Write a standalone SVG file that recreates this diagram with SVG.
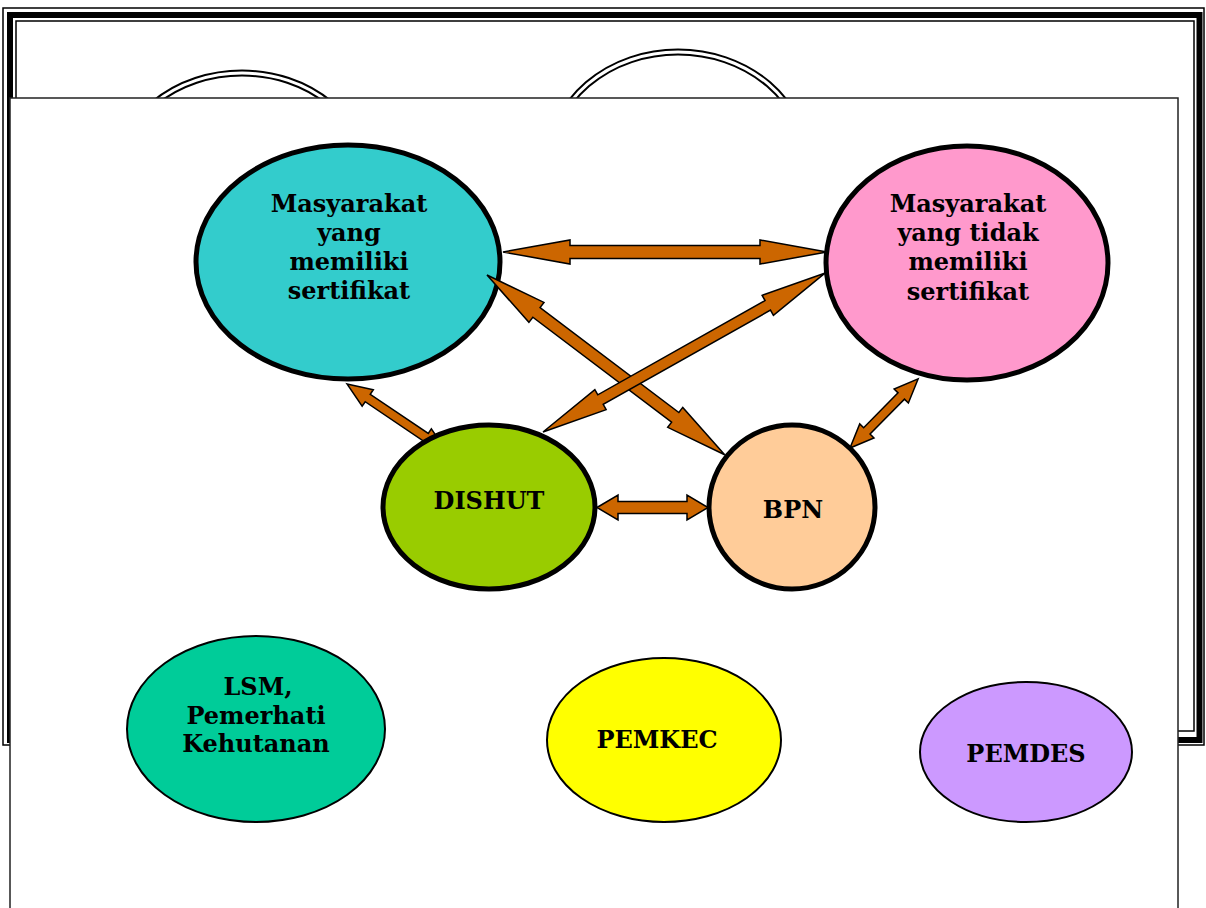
<svg xmlns="http://www.w3.org/2000/svg" width="1206" height="908" viewBox="0 0 1206 908">
<defs>
<style>
.frame{fill:none;stroke:#000}
.big{stroke:#000;stroke-width:5}
.small{stroke:#000;stroke-width:2}
.lbl{font-family:"DejaVu Serif","Liberation Serif",serif;font-weight:bold;font-size:24px;text-anchor:middle;fill:#000}
.arr{fill:#CC6600;stroke:#000;stroke-width:1.5;stroke-linejoin:miter}
</style>
</defs>
<rect width="1206" height="908" fill="#fff"/>
<g id="back-slide">
<rect class="frame" x="3" y="8" width="1201" height="737" stroke-width="1.5"/>
<rect class="frame" x="10" y="15" width="1189.5" height="725" stroke-width="6"/>
<rect class="frame" x="16" y="21" width="1178" height="710" stroke-width="1.5"/>
<ellipse cx="242" cy="178" rx="125" ry="105" fill="none" stroke="#000" stroke-width="7"/>
<ellipse cx="242" cy="178" rx="125" ry="105" fill="none" stroke="#fff" stroke-width="3"/>
<ellipse cx="678" cy="162" rx="128" ry="110" fill="none" stroke="#000" stroke-width="7"/>
<ellipse cx="678" cy="162" rx="128" ry="110" fill="none" stroke="#fff" stroke-width="3"/>
</g>
<rect id="front-slide" x="10" y="98" width="1168" height="830" fill="#fff" stroke="#222" stroke-width="1.5"/>
<g id="node-bersertifikat">
<ellipse class="big" cx="348" cy="262" rx="152" ry="117" fill="#33CCCC"/>
<text class="lbl" x="349" y="212">Masyarakat</text>
<text class="lbl" x="349" y="241">yang</text>
<text class="lbl" x="349" y="270">memiliki</text>
<text class="lbl" x="349" y="299">sertifikat</text>
</g>
<g id="node-tidak-bersertifikat">
<ellipse class="big" cx="967" cy="263" rx="141" ry="117" fill="#FF99CC"/>
<text class="lbl" x="968" y="212">Masyarakat</text>
<text class="lbl" x="968" y="241">yang tidak</text>
<text class="lbl" x="968" y="270">memiliki</text>
<text class="lbl" x="968" y="300">sertifikat</text>
</g>
<g id="connectors">
<path class="arr" transform="translate(503,252)" d="M0,0 L67,-12 L67,-6.5 L257,-6.5 L257,-12 L324,0 L257,12 L257,6.5 L67,6.5 L67,12 Z"/>
<path class="arr" transform="translate(487,275) rotate(37.1)" d="M0,0 L62,-12.5 L62,-6 L236,-6 L236,-12.5 L298,0 L236,12.5 L236,6 L62,6 L62,12.5 Z"/>
<path class="arr" transform="translate(543,432) rotate(-29.4)" d="M0,0 L66,-11.5 L66,-5.5 L258,-5.5 L258,-11.5 L324,0 L258,11.5 L258,5.5 L66,5.5 L66,11.5 Z"/>
<path class="arr" transform="translate(347,384) rotate(34)" d="M0,0 L25,-10 L25,-4.5 L95,-4.5 L95,-10 L120,0 L95,10 L95,4.5 L25,4.5 L25,10 Z"/>
<path class="arr" transform="translate(850,448) rotate(-45.4)" d="M0,0 L24,-10 L24,-4.5 L73,-4.5 L73,-10 L97,0 L73,10 L73,4.5 L24,4.5 L24,10 Z"/>
<path class="arr" transform="translate(597,507.5)" d="M0,0 L21,-12.5 L21,-6 L90,-6 L90,-12.5 L111,0 L90,12.5 L90,6 L21,6 L21,12.5 Z"/>
</g>
<g id="node-dishut">
<ellipse class="big" cx="489" cy="507" rx="106" ry="82" fill="#99CC00"/>
<text class="lbl" x="489" y="509">DISHUT</text>
</g>
<g id="node-bpn">
<ellipse class="big" cx="792" cy="507" rx="83" ry="82" fill="#FFCC99"/>
<text class="lbl" x="793" y="518">BPN</text>
</g>
<g id="node-lsm">
<ellipse class="small" cx="256" cy="729" rx="129" ry="93" fill="#00CC99"/>
<text class="lbl" x="258" y="695">LSM,</text>
<text class="lbl" x="256" y="724">Pemerhati</text>
<text class="lbl" x="256" y="752">Kehutanan</text>
</g>
<g id="node-pemkec">
<ellipse class="small" cx="664" cy="740" rx="117" ry="82" fill="#FFFF00"/>
<text class="lbl" x="657" y="748">PEMKEC</text>
</g>
<g id="node-pemdes">
<ellipse class="small" cx="1026" cy="752" rx="106" ry="70" fill="#CC99FF"/>
<text class="lbl" x="1026" y="762">PEMDES</text>
</g>
</svg>
